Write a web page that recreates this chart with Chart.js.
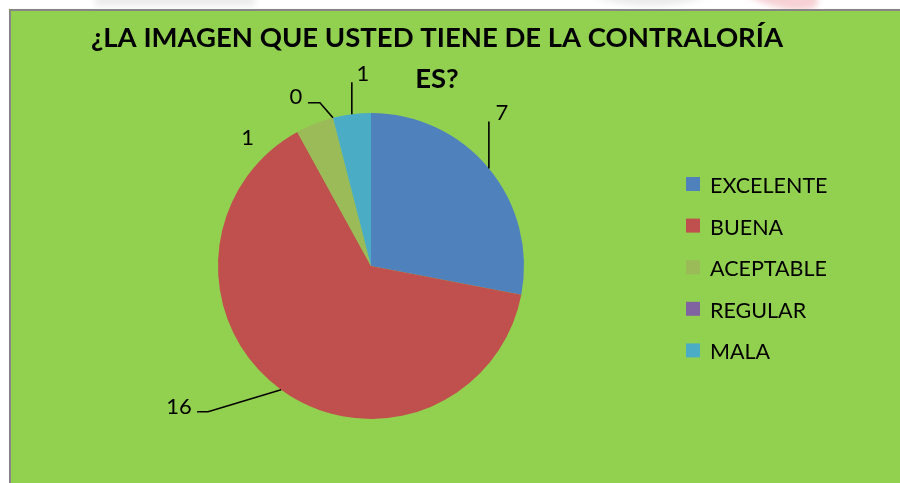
<!DOCTYPE html>
<html>
<head>
<meta charset="utf-8">
<script src="https://cdn.jsdelivr.net/npm/chart.js@4/dist/chart.umd.min.js"></script>
<style>
  html, body { margin: 0; padding: 0; background: #ffffff; }
  canvas { display: block; }
</style>
</head>
<body>
<canvas id="chart" width="900" height="483"></canvas>
<script>
// ============================================
// DATA
// ============================================

const titleLines = ['¿LA IMAGEN QUE USTED TIENE DE LA CONTRALORÍA', 'ES?'];
const categories = ['EXCELENTE', 'BUENA', 'ACEPTABLE', 'REGULAR', 'MALA'];
const answers = [7, 16, 1, 0, 1];
const sliceColors = ['#4F81BD', '#C0504D', '#9BBB59', '#8064A2', '#4BACC6'];

// ============================================
// STYLE
// ============================================

const FONT = 'Lato, "Open Sans", sans-serif';
const PANEL_GREEN = '#92D050';

// Label placement relative to the outer edge point of each slice
// text: offset of label centre, leader: polyline points (from edge outward)
const labelPlacement = [
    { text: [13, -56], leader: [[0, -47]] },
    { text: [-102, 17], leader: [[-73, 22], [-84, 22]] },
    { text: [-67, 14], leader: [] },
    { text: [-37, -21], leader: [[-13, -15], [-25, -15]] },
    { text: [11, -40], leader: [[0, -32]] }
];

// ============================================
// PLUGINS
// ============================================

// Green panel with grey frame behind the chart
const panelPlugin = {
    id: 'panel',
    beforeDraw(chart) {
        const ctx = chart.ctx;
        ctx.save();
        ctx.fillStyle = '#ffffff';
        ctx.fillRect(0, 0, chart.width, chart.height);

        // faint page watermark peeking above the panel
        ctx.filter = 'blur(3px)';
        ctx.fillStyle = 'rgba(200,200,200,0.35)';
        ctx.fillRect(95, -6, 160, 12);
        ctx.fillStyle = 'rgba(210,210,210,0.45)';
        ctx.beginPath();
        ctx.ellipse(650, -20, 70, 26, 0, 0, Math.PI * 2);
        ctx.fill();
        ctx.fillStyle = 'rgba(235,150,160,0.45)';
        ctx.beginPath();
        ctx.ellipse(775, -10, 45, 16, 0.3, 0, Math.PI * 2);
        ctx.fill();
        ctx.filter = 'none';

        ctx.fillStyle = PANEL_GREEN;
        ctx.fillRect(11, 11, chart.width - 11, chart.height - 11);
        ctx.strokeStyle = '#868686';
        ctx.lineWidth = 2;
        ctx.beginPath();
        ctx.moveTo(10, chart.height);
        ctx.lineTo(10, 10);
        ctx.lineTo(chart.width, 10);
        ctx.stroke();
        ctx.restore();
    }
};

// Title, legend and data labels with leader lines
const overlayPlugin = {
    id: 'overlay',
    afterDraw(chart) {
        const ctx = chart.ctx;
        ctx.save();

        // Title
        ctx.fillStyle = '#000000';
        ctx.font = 'bold 27.5px ' + FONT;
        ctx.textAlign = 'center';
        ctx.textBaseline = 'alphabetic';
        ctx.fillText(titleLines[0], 437, 47);
        ctx.fillText(titleLines[1], 437, 88);

        // Legend
        ctx.font = '21.5px ' + FONT;
        ctx.textAlign = 'left';
        ctx.textBaseline = 'middle';
        categories.forEach((name, i) => {
            const y = 185 + i * 41.6;
            ctx.fillStyle = sliceColors[i];
            ctx.fillRect(686, y - 8, 14, 14);
            ctx.fillStyle = '#000000';
            ctx.fillText(name, 710, y + 1);
        });

        // Data labels
        const meta = chart.getDatasetMeta(0);
        ctx.font = '22px ' + FONT;
        ctx.textAlign = 'center';
        ctx.strokeStyle = '#000000';
        ctx.lineWidth = 1.6;
        meta.data.forEach((arc, i) => {
            const p = arc.getProps(['x', 'y', 'startAngle', 'endAngle', 'outerRadius'], true);
            const mid = (p.startAngle + p.endAngle) / 2;
            const ex = p.x + Math.cos(mid) * p.outerRadius;
            const ey = p.y + Math.sin(mid) * p.outerRadius;
            const place = labelPlacement[i];
            if (place.leader.length) {
                ctx.beginPath();
                ctx.moveTo(ex, ey);
                place.leader.forEach(pt => ctx.lineTo(ex + pt[0], ey + pt[1]));
                ctx.stroke();
            }
            ctx.fillStyle = '#000000';
            ctx.fillText(String(answers[i]), ex + place.text[0], ey + place.text[1]);
        });

        ctx.restore();
    }
};

// ============================================
// CHART
// ============================================

const chart = new Chart(document.getElementById('chart').getContext('2d'), {
    type: 'pie',
    data: {
        labels: categories,
        datasets: [{
            data: answers,
            backgroundColor: sliceColors,
            borderWidth: 0
        }]
    },
    options: {
        responsive: false,
        animation: false,
        layout: {
            padding: { left: 218, right: 376, top: 113, bottom: 64 }
        },
        plugins: {
            legend: { display: false },
            title: { display: false },
            tooltip: { enabled: false }
        }
    },
    plugins: [panelPlugin, overlayPlugin]
});
</script>
</body>
</html>
